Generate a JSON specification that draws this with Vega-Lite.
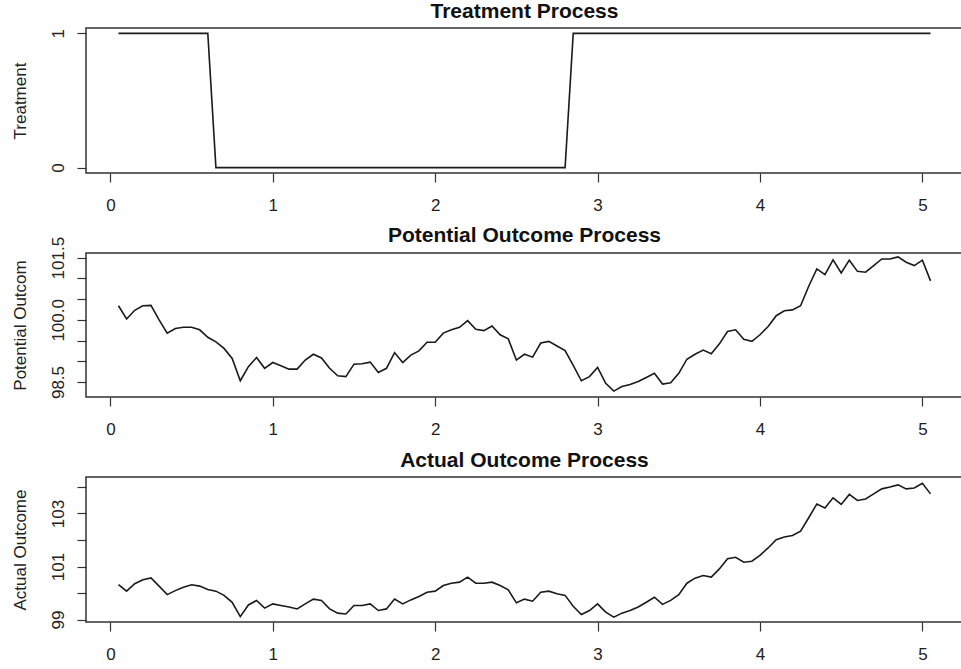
{
 "$schema": "https://vega.github.io/schema/vega-lite/v6.json",
 "padding": {"left": 10, "top": 0, "right": -3, "bottom": 0},
 "background": "white",
 "config": {
  "font": "Liberation Sans",
  "view": {"stroke": "#333", "strokeWidth": 1.5},
  "axis": {"grid": false, "domain": false, "tickColor": "#333", "tickSize": 9, "tickWidth": 1.2, "labelFontSize": 17, "titleFontSize": 17, "titleFontWeight": "normal", "labelColor": "#222", "titleColor": "#222", "labelOverlap": false, "labelFlush": false},
  "axisX": {"labelBaseline": "alphabetic", "labelPadding": 28, "labelAngle": 0},
  "axisY": {"labelAngle": 270, "labelAlign": "center", "labelBaseline": "alphabetic", "labelPadding": 14, "titleAngle": 270, "titleBaseline": "alphabetic", "titleAlign": "center", "titleX": -61},
  "title": {"fontSize": 21, "fontWeight": "bold", "baseline": "alphabetic", "offset": 6, "anchor": "middle", "color": "#111"}
 },
 "data": {"values": [
  {"t":0.05,"tr":1,"po":100.34,"ao":100.32},
  {"t":0.10,"tr":1,"po":100.02,"ao":100.07},
  {"t":0.15,"tr":1,"po":100.23,"ao":100.35},
  {"t":0.20,"tr":1,"po":100.34,"ao":100.50},
  {"t":0.25,"tr":1,"po":100.35,"ao":100.57},
  {"t":0.30,"tr":1,"po":100.00,"ao":100.26},
  {"t":0.35,"tr":1,"po":99.68,"ao":99.94},
  {"t":0.40,"tr":1,"po":99.79,"ao":100.09},
  {"t":0.45,"tr":1,"po":99.82,"ao":100.22},
  {"t":0.50,"tr":1,"po":99.82,"ao":100.31},
  {"t":0.55,"tr":1,"po":99.76,"ao":100.26},
  {"t":0.60,"tr":1,"po":99.58,"ao":100.13},
  {"t":0.65,"tr":0,"po":99.47,"ao":100.07},
  {"t":0.70,"tr":0,"po":99.31,"ao":99.91},
  {"t":0.75,"tr":0,"po":99.07,"ao":99.65},
  {"t":0.80,"tr":0,"po":98.53,"ao":99.11},
  {"t":0.85,"tr":0,"po":98.87,"ao":99.55},
  {"t":0.90,"tr":0,"po":99.09,"ao":99.72},
  {"t":0.95,"tr":0,"po":98.83,"ao":99.43},
  {"t":1.00,"tr":0,"po":98.97,"ao":99.59},
  {"t":1.05,"tr":0,"po":98.89,"ao":99.53},
  {"t":1.10,"tr":0,"po":98.81,"ao":99.47},
  {"t":1.15,"tr":0,"po":98.81,"ao":99.40},
  {"t":1.20,"tr":0,"po":99.03,"ao":99.59},
  {"t":1.25,"tr":0,"po":99.17,"ao":99.77},
  {"t":1.30,"tr":0,"po":99.08,"ao":99.72},
  {"t":1.35,"tr":0,"po":98.83,"ao":99.40},
  {"t":1.40,"tr":0,"po":98.65,"ao":99.24},
  {"t":1.45,"tr":0,"po":98.63,"ao":99.21},
  {"t":1.50,"tr":0,"po":98.93,"ao":99.53},
  {"t":1.55,"tr":0,"po":98.94,"ao":99.53},
  {"t":1.60,"tr":0,"po":98.98,"ao":99.59},
  {"t":1.65,"tr":0,"po":98.73,"ao":99.34},
  {"t":1.70,"tr":0,"po":98.83,"ao":99.40},
  {"t":1.75,"tr":0,"po":99.21,"ao":99.77},
  {"t":1.80,"tr":0,"po":98.97,"ao":99.59},
  {"t":1.85,"tr":0,"po":99.15,"ao":99.74},
  {"t":1.90,"tr":0,"po":99.25,"ao":99.87},
  {"t":1.95,"tr":0,"po":99.46,"ao":100.03},
  {"t":2.00,"tr":0,"po":99.46,"ao":100.07},
  {"t":2.05,"tr":0,"po":99.68,"ao":100.28},
  {"t":2.10,"tr":0,"po":99.76,"ao":100.37},
  {"t":2.15,"tr":0,"po":99.82,"ao":100.41},
  {"t":2.20,"tr":0,"po":99.98,"ao":100.60},
  {"t":2.25,"tr":0,"po":99.77,"ao":100.37},
  {"t":2.30,"tr":0,"po":99.74,"ao":100.37},
  {"t":2.35,"tr":0,"po":99.85,"ao":100.41},
  {"t":2.40,"tr":0,"po":99.64,"ao":100.28},
  {"t":2.45,"tr":0,"po":99.54,"ao":100.12},
  {"t":2.50,"tr":0,"po":99.03,"ao":99.63},
  {"t":2.55,"tr":0,"po":99.17,"ao":99.77},
  {"t":2.60,"tr":0,"po":99.10,"ao":99.69},
  {"t":2.65,"tr":0,"po":99.44,"ao":100.03},
  {"t":2.70,"tr":0,"po":99.48,"ao":100.07},
  {"t":2.75,"tr":0,"po":99.37,"ao":99.97},
  {"t":2.80,"tr":0,"po":99.26,"ao":99.91},
  {"t":2.85,"tr":1,"po":98.90,"ao":99.50},
  {"t":2.90,"tr":1,"po":98.53,"ao":99.19},
  {"t":2.95,"tr":1,"po":98.63,"ao":99.34},
  {"t":3.00,"tr":1,"po":98.85,"ao":99.59},
  {"t":3.05,"tr":1,"po":98.47,"ao":99.28},
  {"t":3.10,"tr":1,"po":98.28,"ao":99.09},
  {"t":3.15,"tr":1,"po":98.39,"ao":99.24},
  {"t":3.20,"tr":1,"po":98.44,"ao":99.34},
  {"t":3.25,"tr":1,"po":98.51,"ao":99.47},
  {"t":3.30,"tr":1,"po":98.61,"ao":99.65},
  {"t":3.35,"tr":1,"po":98.71,"ao":99.84},
  {"t":3.40,"tr":1,"po":98.45,"ao":99.57},
  {"t":3.45,"tr":1,"po":98.48,"ao":99.72},
  {"t":3.50,"tr":1,"po":98.71,"ao":99.94},
  {"t":3.55,"tr":1,"po":99.05,"ao":100.37},
  {"t":3.60,"tr":1,"po":99.17,"ao":100.56},
  {"t":3.65,"tr":1,"po":99.27,"ao":100.66},
  {"t":3.70,"tr":1,"po":99.18,"ao":100.60},
  {"t":3.75,"tr":1,"po":99.42,"ao":100.91},
  {"t":3.80,"tr":1,"po":99.72,"ao":101.29},
  {"t":3.85,"tr":1,"po":99.76,"ao":101.35},
  {"t":3.90,"tr":1,"po":99.53,"ao":101.16},
  {"t":3.95,"tr":1,"po":99.48,"ao":101.20},
  {"t":4.00,"tr":1,"po":99.64,"ao":101.42},
  {"t":4.05,"tr":1,"po":99.84,"ao":101.70},
  {"t":4.10,"tr":1,"po":100.10,"ao":102.01},
  {"t":4.15,"tr":1,"po":100.22,"ao":102.11},
  {"t":4.20,"tr":1,"po":100.24,"ao":102.17},
  {"t":4.25,"tr":1,"po":100.34,"ao":102.33},
  {"t":4.30,"tr":1,"po":100.81,"ao":102.84},
  {"t":4.35,"tr":1,"po":101.23,"ao":103.36},
  {"t":4.40,"tr":1,"po":101.09,"ao":103.21},
  {"t":4.45,"tr":1,"po":101.45,"ao":103.59},
  {"t":4.50,"tr":1,"po":101.13,"ao":103.34},
  {"t":4.55,"tr":1,"po":101.44,"ao":103.72},
  {"t":4.60,"tr":1,"po":101.17,"ao":103.49},
  {"t":4.65,"tr":1,"po":101.15,"ao":103.55},
  {"t":4.70,"tr":1,"po":101.31,"ao":103.74},
  {"t":4.75,"tr":1,"po":101.47,"ao":103.93},
  {"t":4.80,"tr":1,"po":101.47,"ao":104.00},
  {"t":4.85,"tr":1,"po":101.52,"ao":104.08},
  {"t":4.90,"tr":1,"po":101.39,"ao":103.93},
  {"t":4.95,"tr":1,"po":101.31,"ao":103.96},
  {"t":5.00,"tr":1,"po":101.44,"ao":104.14},
  {"t":5.05,"tr":1,"po":100.94,"ao":103.74}
 ]},
 "bounds": "flush",
 "spacing": 80,
 "vconcat": [
  {
   "title": {"text": "Treatment Process", "offset": 6},
   "width": 877, "height": 145,
   "mark": {"type": "line", "color": "#1a1a1a", "strokeWidth": 1.6},
   "encoding": {
    "x": {"field": "t", "type": "quantitative", "scale": {"domain": [-0.15, 5.25], "nice": false, "zero": false}, "axis": {"values": [0,1,2,3,4,5], "title": null}},
    "y": {"field": "tr", "type": "quantitative", "scale": {"domain": [-0.04, 1.04], "nice": false, "zero": false}, "axis": {"values": [0,1], "format": "d", "title": "Treatment"}}
   }
  },
  {
   "title": {"text": "Potential Outcome Process", "offset": -10},
   "width": 877, "height": 144,
   "mark": {"type": "line", "color": "#1a1a1a", "strokeWidth": 1.6},
   "encoding": {
    "x": {"field": "t", "type": "quantitative", "scale": {"domain": [-0.15, 5.25], "nice": false, "zero": false}, "axis": {"values": [0,1,2,3,4,5], "title": null}},
    "y": {"field": "po", "type": "quantitative", "scale": {"domain": [98.138, 101.613], "nice": false, "zero": false}, "axis": {"values": [98.5,99,99.5,100,100.5,101,101.5], "labelExpr": "abs(datum.value-98.5)<0.01 || abs(datum.value-100)<0.01 || abs(datum.value-101.5)<0.01 ? format(datum.value, '.1f') : ''", "title": "Potential Outcom"}}
   }
  },
  {
   "title": {"text": "Actual Outcome Process", "offset": 6},
   "width": 877, "height": 145,
   "mark": {"type": "line", "color": "#1a1a1a", "strokeWidth": 1.6},
   "encoding": {
    "x": {"field": "t", "type": "quantitative", "scale": {"domain": [-0.15, 5.25], "nice": false, "zero": false}, "axis": {"values": [0,1,2,3,4,5], "title": null}},
    "y": {"field": "ao", "type": "quantitative", "scale": {"domain": [98.906, 104.377], "nice": false, "zero": false}, "axis": {"values": [99,100,101,102,103,104], "labelExpr": "abs(datum.value-99)<0.01 || abs(datum.value-101)<0.01 || abs(datum.value-103)<0.01 ? format(datum.value, 'd') : ''", "title": "Actual Outcome"}}
   }
  }
 ]
}
